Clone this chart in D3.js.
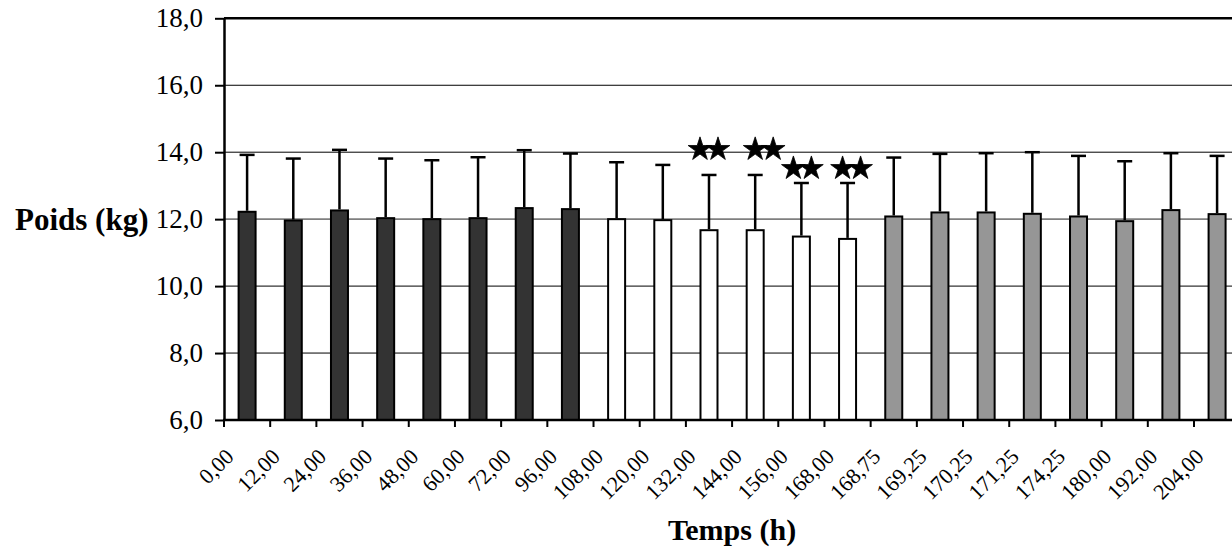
<!DOCTYPE html>
<html>
<head>
<meta charset="utf-8">
<script src="https://cdn.jsdelivr.net/npm/d3@7"></script>
<style>
    body { margin: 0; background: #fff; }
    svg { display: block; font-family: "Liberation Serif", "Times New Roman", serif; }
</style>
</head>
<body>
<div id="chart"></div>
<script>
// categories (time, h) as printed on the axis
var Temps = ["0,00","12,00","24,00","36,00","48,00","60,00","72,00","96,00",
             "108,00","120,00","132,00","144,00","156,00","168,00",
             "168,75","169,25","170,25","171,25","174,25","180,00","192,00","204,00"];
// mean weight (kg)
var Poids = [12.22, 11.96, 12.26, 12.03, 12.0, 12.03, 12.33, 12.3,
             12.0, 11.97, 11.67, 11.67, 11.48, 11.41,
             12.08, 12.2, 12.2, 12.16, 12.08, 11.94, 12.27, 12.15];
// mean + SD (top of error bar)
var PoidsSD = [13.92, 13.81, 14.07, 13.81, 13.76, 13.85, 14.06, 13.96,
               13.7, 13.62, 13.32, 13.32, 13.08, 13.08,
               13.84, 13.95, 13.97, 14.0, 13.89, 13.73, 13.97, 13.89];
// phase of each bar: 0 = dark, 1 = white, 2 = grey
var Phase = [0,0,0,0,0,0,0,0, 1,1,1,1,1,1, 2,2,2,2,2,2,2,2];
var phaseColor = ["#333333", "#ffffff", "#969696"];
// significance stars (category, level in kg)
var Etoiles = ["132,00","144,00","156,00","168,00"];
var EtoilesNiveau = [14.13, 14.13, 13.56, 13.56];
var EtoilesDecal = [0, 9, 1, 4]; // small manual shift of the pairs
var yTicks = [6, 8, 10, 12, 14, 16, 18];

function barChart() {
    var W = 1232, H = 551;
    var left = 224, top = 18.3, bottom = 420;
    var bandW = 46.19;

    var svg = d3.select("#chart").append("svg")
        .attr("width", W).attr("height", H);

    var xScale = d3.scaleBand()
        .domain(Temps)
        .range([left, left + bandW * Temps.length])
        .paddingInner(0).paddingOuter(0);

    var yScale = d3.scaleLinear()
        .domain([6, 18])
        .range([bottom, top]);

    var right = xScale.range()[1];

    // grid lines
    svg.append("g").selectAll("line")
        .data(yTicks.filter(function(d) { return d > 6 && d < 18; }))
        .enter().append("line")
        .attr("x1", left).attr("x2", right)
        .attr("y1", function(d) { return yScale(d); })
        .attr("y2", function(d) { return yScale(d); })
        .attr("stroke", function(d) { return d == 12 ? "#7f7f7f" : "#000"; })
        .attr("stroke-width", function(d) { return d == 12 ? 1.6 : 1; });

    // top border
    svg.append("line")
        .attr("x1", left).attr("x2", right)
        .attr("y1", yScale(18)).attr("y2", yScale(18))
        .attr("stroke", "#000").attr("stroke-width", 2.5);

    var barW = 17;

    // bars
    svg.append("g").selectAll("rect")
        .data(Poids)
        .enter().append("rect")
        .attr("x", function(d, i) { return xScale(Temps[i]) + xScale.bandwidth() / 2 - barW / 2; })
        .attr("y", function(d) { return yScale(d); })
        .attr("width", barW)
        .attr("height", function(d) { return yScale(6) - yScale(d); })
        .attr("fill", function(d, i) { return phaseColor[Phase[i]]; })
        .attr("stroke", "#000")
        .attr("stroke-width", 2);

    // error bars (upper only)
    var err = svg.append("g").attr("stroke", "#000").attr("stroke-width", 2.5);
    err.selectAll("line.v")
        .data(PoidsSD)
        .enter().append("line").attr("class", "v")
        .attr("x1", function(d, i) { return xScale(Temps[i]) + xScale.bandwidth() / 2; })
        .attr("x2", function(d, i) { return xScale(Temps[i]) + xScale.bandwidth() / 2; })
        .attr("y1", function(d, i) { return yScale(Poids[i]) - 1; })
        .attr("y2", function(d) { return yScale(d); });
    err.selectAll("line.cap")
        .data(PoidsSD)
        .enter().append("line").attr("class", "cap")
        .attr("x1", function(d, i) { return xScale(Temps[i]) + xScale.bandwidth() / 2 - 7.5; })
        .attr("x2", function(d, i) { return xScale(Temps[i]) + xScale.bandwidth() / 2 + 7.5; })
        .attr("y1", function(d) { return yScale(d); })
        .attr("y2", function(d) { return yScale(d); });

    // stars
    var star = d3.symbol().type(d3.symbolStar).size(175);
    Etoiles.forEach(function(c, i) {
        [-9, 9].forEach(function(dx) {
            svg.append("path")
                .attr("d", star)
                .attr("fill", "#000")
                .attr("stroke", "#000")
                .attr("stroke-width", 0.8)
                .attr("stroke-linejoin", "round")
                .attr("transform", "translate(" + (xScale(c) + xScale.bandwidth() / 2 + EtoilesDecal[i] + dx) + "," + (yScale(EtoilesNiveau[i]) + 1.5) + ")");
        });
    });

    // y axis
    var yAxis = d3.axisLeft(yScale)
        .tickValues(yTicks)
        .tickSize(9)
        .tickSizeOuter(0)
        .tickPadding(12)
        .tickFormat(function(d) { return d3.format(".1f")(d).replace(".", ","); });
    var gy = svg.append("g")
        .attr("transform", "translate(" + left + ",0)")
        .call(yAxis);
    gy.select(".domain").attr("stroke-width", 2.5);
    gy.selectAll(".tick line").attr("stroke-width", 2);
    gy.selectAll("text")
        .attr("font-family", "Liberation Serif")
        .attr("font-size", 27)
        .attr("fill", "#000");

    // x axis line
    svg.append("line")
        .attr("x1", left - 1).attr("x2", right)
        .attr("y1", bottom).attr("y2", bottom)
        .attr("stroke", "#000").attr("stroke-width", 2.5);

    // x ticks at band edges
    svg.append("g").selectAll("line")
        .data(Temps)
        .enter().append("line")
        .attr("x1", function(d) { return xScale(d); })
        .attr("x2", function(d) { return xScale(d); })
        .attr("y1", bottom).attr("y2", bottom + 7)
        .attr("stroke", "#000").attr("stroke-width", 2);

    // x tick labels, rotated
    svg.append("g").selectAll("text")
        .data(Temps)
        .enter().append("text")
        .attr("transform", function(d) {
            return "translate(" + (xScale(d) + xScale.bandwidth() / 2 - 12) + "," + (bottom + 38) + ") rotate(-45)";
        })
        .attr("text-anchor", "end")
        .attr("font-size", 22)
        .text(function(d) { return d; });

    // axis titles
    svg.append("text")
        .attr("x", (left + right) / 2)
        .attr("y", 540)
        .attr("text-anchor", "middle")
        .attr("font-size", 30)
        .attr("font-weight", "bold")
        .text("Temps (h)");

    svg.append("text")
        .attr("x", 15)
        .attr("y", 230)
        .attr("font-size", 31)
        .attr("font-weight", "bold")
        .text("Poids (kg)");
}

window.onload = barChart;
</script>
</body>
</html>
